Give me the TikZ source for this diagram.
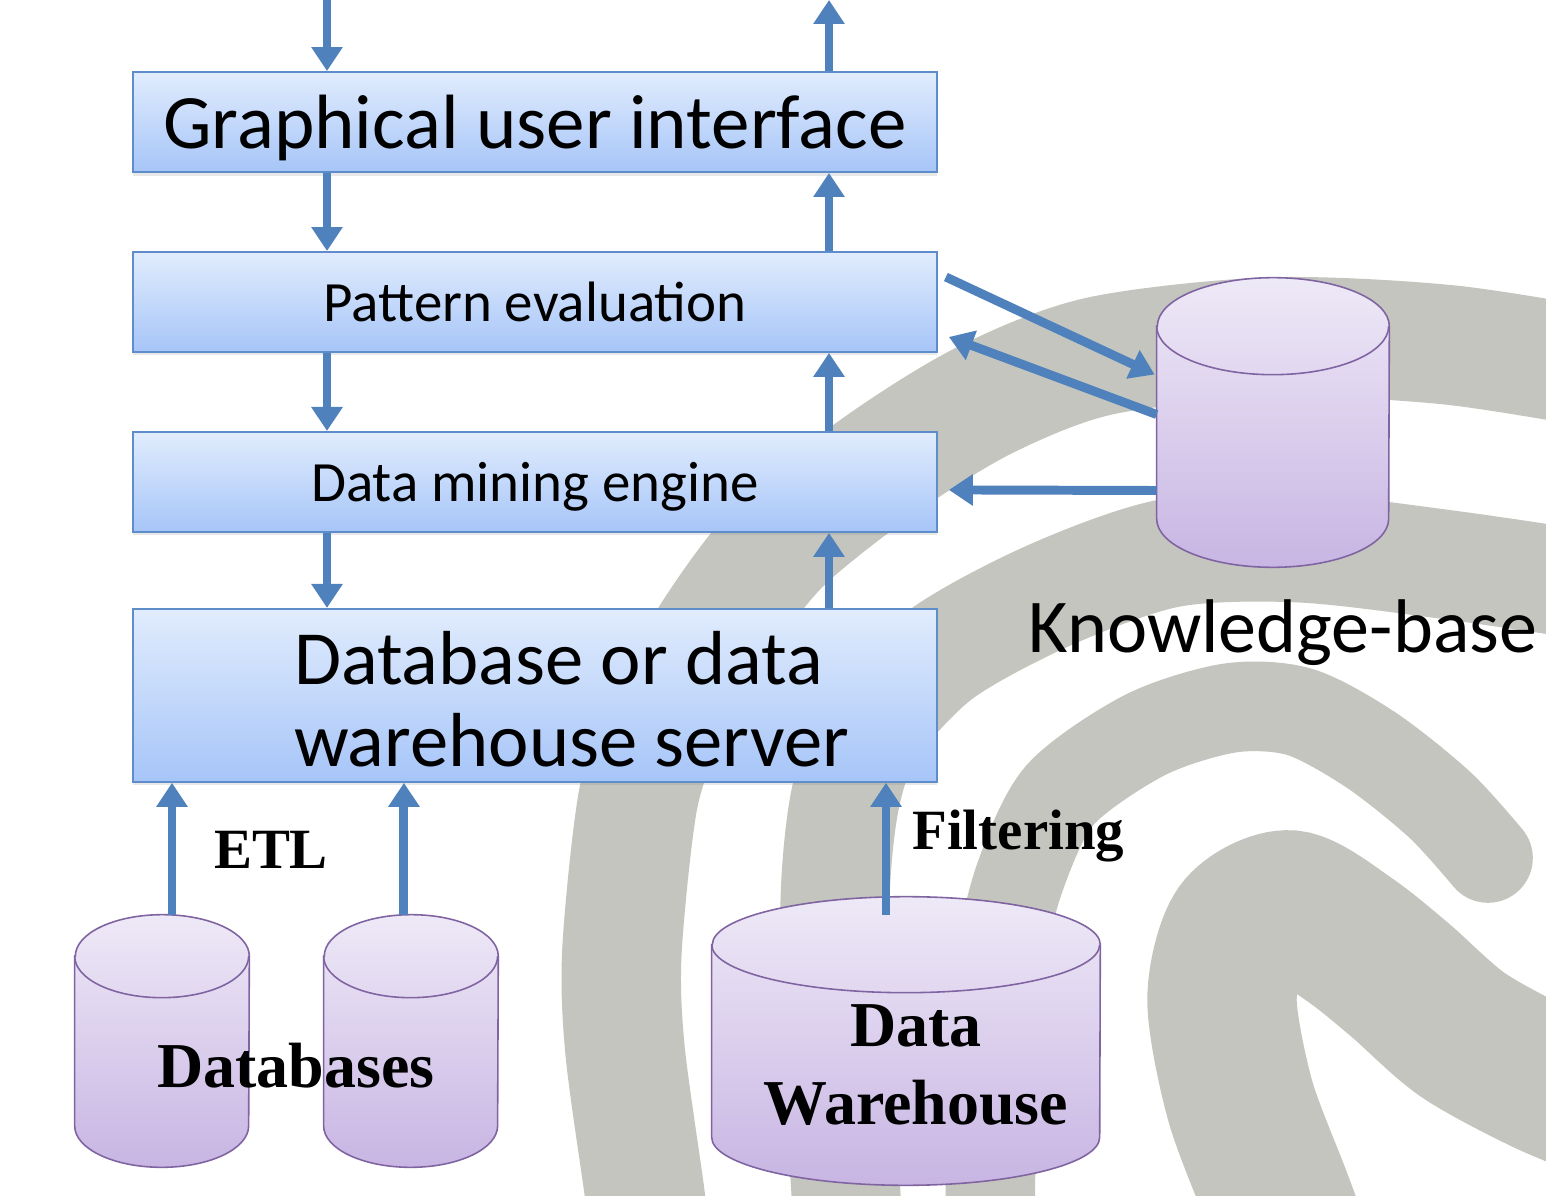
\documentclass[tikz,border=0pt]{standalone}
\usepackage{fontspec}
\setmainfont{Carlito}
\newfontfamily\tnr{Liberation Serif}
\usetikzlibrary{positioning,shapes.geometric,arrows.meta,calc,shadows}

\definecolor{flowblue}{HTML}{4F81BD}
\definecolor{boxtop}{HTML}{E1ECFD}
\definecolor{boxbot}{HTML}{A6C5F8}
\definecolor{boxline}{HTML}{5F8DCB}
\definecolor{cyltop}{HTML}{EEE9F7}
\definecolor{cylbot}{HTML}{C8B5E3}
\definecolor{cylline}{HTML}{8064A2}
\definecolor{swirlgray}{HTML}{C3C5BE}

% drum outline round a store node: #1 node, #2 x radius, #3 y radius
\newcommand\drum[3]{%
  \path[draw=cylline ,line width=0.9pt ,top color=cyltop ,bottom color=cylbot]
    ($(#1.north west)+(0,#3)$) -- ($(#1.south west)+(0,-#3)$)
    arc[start angle=180 ,end angle=0 ,x radius=#2 ,y radius=#3]
    -- ($(#1.north east)+(0,#3)$)
    arc[start angle=0 ,end angle=-180 ,x radius=#2 ,y radius=#3] -- cycle;
  \draw[cylline ,line width=0.9pt] ($(#1.north west)+(0,#3)$)
    arc[start angle=180 ,end angle=0 ,x radius=#2 ,y radius=#3];}

\begin{document}
\begin{tikzpicture}[x=0.02cm ,y=-0.02cm ,node distance =3.6cm and 5cm ,on grid ,
box/.style ={ rectangle ,draw=boxline ,line width=1.1pt ,top color=boxtop ,
  bottom color=boxbot ,minimum width=16.08cm ,minimum height=2cm ,inner sep=0pt ,
  drop shadow={shadow xshift=0pt ,shadow yshift=-2pt ,opacity=0.18}},
store/.style ={ rectangle ,inner sep=0pt},
flow/.style ={ draw=flowblue ,line width=5.1pt ,-{Triangle[length=0.48cm ,width=0.6cm]}},
band/.style ={ draw=swirlgray}]

\useasboundingbox (0,0) rectangle (1546,1196);
\fill[white] (0,0) rectangle (1546,1196);

% background swirl
\begin{scope}
\clip (0,0) rectangle (1546,1196);
\draw[band ,line width=68pt] plot[smooth] coordinates {(1620,372) (1450,345) (1273,337)
  (1100,356) (985,400) (880,465) (780,545) (715,630) (665,720) (638,800) (622,950)
  (625,1050) (645,1196) (652,1260)};
\draw[band ,line width=62pt] plot[smooth] coordinates {(1620,590) (1450,565) (1300,548)
  (1170,553) (1050,595) (940,655) (870,730) (845,800) (835,900) (838,1050) (850,1260)};
\draw[band ,line width=51pt ,line cap=round] plot[smooth] coordinates {(990,1260)
  (992,1050) (1000,960) (1020,877) (1060,795) (1145,735) (1230,708) (1300,712)
  (1371,750) (1440,805) (1488,858)};
\draw[band ,line width=85pt] plot[smooth] coordinates {(1300,1260) (1276,1196)
  (1240,1100) (1222,1000) (1240,930) (1290,905) (1350,940) (1400,980) (1463,1035)
  (1546,1080) (1620,1110)};
\end{scope}

% layers
\node[box ,font=\fontsize{43.8}{52}\selectfont ,text height=33pt ,text depth=3.4pt]
  (gui) at (535,122) {Graphical user interface};
\node[box ,font=\fontsize{32.4}{38}\selectfont ,text height=26pt ,text depth=3.2pt]
  (pattern) [below =of gui] {Pattern evaluation};
\node[box ,font=\fontsize{32.4}{38}\selectfont ,text height=26pt ,text depth=3.2pt]
  (mining) [below =of pattern] {Data mining engine};
\node[box ,minimum height=3.46cm ,align=left ,font=\fontsize{43.6}{46.5}\selectfont] (server)
  [below =4.27cm of mining] {\hspace*{1.46cm}\rule{0pt}{34.5pt}Database or data\\
  \hspace*{1.46cm}warehouse server};

% stores
\node[store ,minimum width=3.48cm ,minimum height=5.04cm] (db1) at (162,1041) {};
\node[store ,minimum width=3.48cm ,minimum height=5.04cm] (db2) [right =4.98cm of db1] {};
\node[store ,minimum width=7.76cm ,minimum height=5.76cm] (dw) at (906,1041) {};
\node[store ,minimum width=4.64cm ,minimum height=5.78cm] (kb) at (1273,422.5) {};
\drum{db1}{87}{41.5}
\drum{db2}{87}{41.5}
\drum{dw}{194}{48}
\drum{kb}{116}{48.5}

\node[align=center ,font=\tnr\bfseries\fontsize{36.4}{44.4}\selectfont] (dwname)
  at (916,1065) {Data\\Warehouse};
\node[anchor=base ,font=\tnr\bfseries\fontsize{36.4}{44}\selectfont] (dbs) at (296,1087) {Databases};
\node[anchor=base ,font=\fontsize{43.3}{52}\selectfont] (kbname) at (1283,652) {Knowledge-base};
\node[anchor=base ,font=\tnr\bfseries\fontsize{32.4}{40}\selectfont] (etl) at (271,868) {ETL};
\node[anchor=base west ,inner sep=0pt ,font=\tnr\bfseries\fontsize{32.4}{40}\selectfont] (filt)
  at (912,849) {Filtering};

% flows
\coordinate (down) at (327,0);
\coordinate (up) at (829,0);
\draw[flow] (down) -- (down |- gui.north);
\draw[flow] (up |- gui.north) -- (up);
\draw[flow] (down |- gui.south) -- (down |- pattern.north);
\draw[flow] (down |- pattern.south) -- (down |- mining.north);
\draw[flow] (down |- mining.south) -- (down |- server.north);
\draw[flow] (up |- server.north) -- (up |- mining.south);
\draw[flow] (up |- mining.north) -- (up |- pattern.south);
\draw[flow] (up |- pattern.north) -- (up |- gui.south);

\coordinate (etlA) at ($(db1.north)+(10,0)$);
\coordinate (etlB) at ($(db2.north)+(-7,0)$);
\coordinate (filtA) at ($(dw.north)+(-20,18)$);
\draw[flow] (etlA) -- (etlA |- server.south);
\draw[flow] (etlB) -- (etlB |- server.south);
\draw[flow] (filtA) -- (filtA |- server.south);

\draw[flow] ($(pattern.north east)+(8,26)$) -- ($(kb.west)+(-2,-48)$);
\draw[flow] ($(kb.west)+(0,-8)$) -- ($(pattern.east)+(11,35)$);
\draw[flow] ($(kb.west)+(0,68)$) -- ($(mining.east)+(11,8)$);
\end{tikzpicture}
\end{document}
